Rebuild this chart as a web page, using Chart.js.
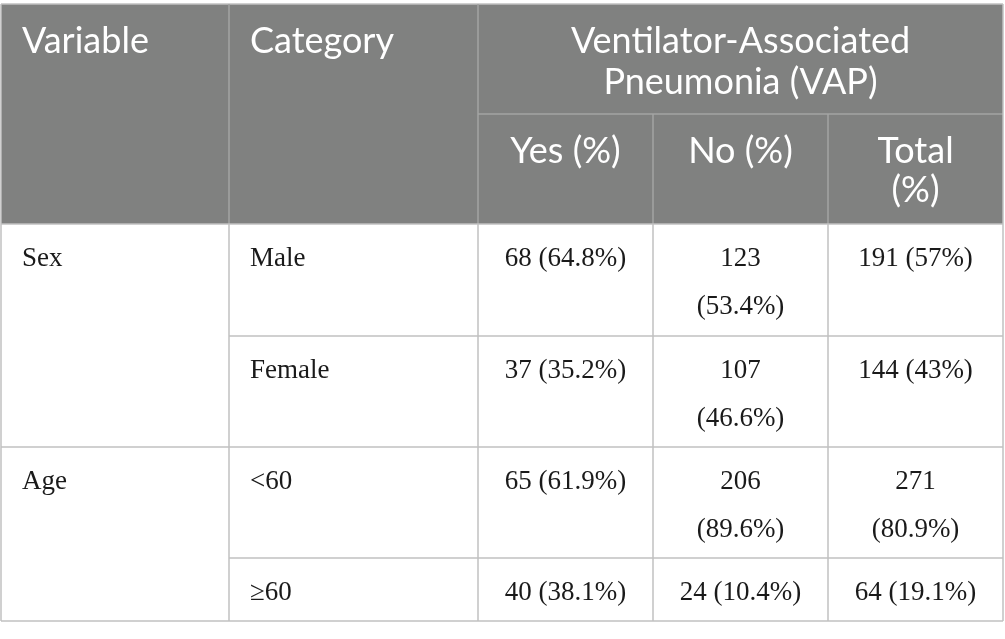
<!DOCTYPE html>
<html lang="en">
<head>
    <meta charset="UTF-8">
    <title>VAP by Sex and Age</title>
    <script src="https://cdn.jsdelivr.net/npm/chart.js"></script>
    <style>
        html, body { margin: 0; padding: 0; background: #ffffff; }
        .tabela-container { width: 1005px; height: 639px; }
    </style>
</head>
<body>
    <div class="tabela-container">
        <canvas id="tabelaChart"></canvas>
    </div>

    <script>
        // Dados da tabela
        const variables = ['Sex', 'Age'];
        const categories = ['Male', 'Female', '<60', '\u226560'];
        const yesCounts = [68, 37, 65, 40];
        const yesPct = ['64.8', '35.2', '61.9', '38.1'];
        const noCounts = [123, 107, 206, 24];
        const noPct = ['53.4', '46.6', '89.6', '10.4'];
        const totalCounts = [191, 144, 271, 64];
        const totalPct = ['57', '43', '80.9', '19.1'];
        const headerMain = ['Variable', 'Category', 'Ventilator-Associated Pneumonia (VAP)'];
        const headerSub = ['Yes (%)', 'No (%)', 'Total (%)'];

        // Layout (em unidades das escalas)
        const colEdges = [1, 229, 478, 653, 828, 1003];
        const rowEdges = [4, 114, 224, 336, 447, 558, 621];

        const headerFont = '36px Lato';
        const bodyFont = '27px "Liberation Serif"';

        function wrapText(ctx, text, maxWidth) {
            const words = text.split(' ');
            const lines = [];
            let line = '';
            words.forEach(w => {
                const test = line ? line + ' ' + w : w;
                if (line && ctx.measureText(test).width > maxWidth) {
                    lines.push(line);
                    line = w;
                } else {
                    line = test;
                }
            });
            if (line) lines.push(line);
            return lines;
        }

        function drawLines(ctx, lines, x, y, lineHeight) {
            lines.forEach((l, i) => ctx.fillText(l, x, y + i * lineHeight));
        }

        const tablePlugin = {
            id: 'tablePlugin',
            afterDraw(chart) {
                const ctx = chart.ctx;
                const xs = chart.scales.x;
                const ys = chart.scales.y;
                const X = v => xs.getPixelForValue(v);
                const Y = v => ys.getPixelForValue(v);
                const c = colEdges.map(X);
                const r = rowEdges.map(Y);

                ctx.save();
                // fundo do cabeçalho
                ctx.fillStyle = '#808180';
                ctx.fillRect(c[0], r[0], c[5] - c[0], r[2] - r[0]);

                // linhas
                ctx.lineWidth = 1.5;
                function hline(x1, x2, y, color) {
                    ctx.strokeStyle = color;
                    ctx.beginPath(); ctx.moveTo(x1, y); ctx.lineTo(x2, y); ctx.stroke();
                }
                function vline(x, y1, y2, color) {
                    ctx.strokeStyle = color;
                    ctx.beginPath(); ctx.moveTo(x, y1); ctx.lineTo(x, y2); ctx.stroke();
                }
                const headLine = '#a3a4a3';
                const bodyLine = '#c0c0c0';
                hline(c[0], c[5], r[0], bodyLine);
                hline(c[2], c[5], r[1], headLine);
                for (let i = 1; i < 5; i++) {
                    vline(c[i], (i >= 3 ? r[1] : r[0]), r[2], headLine);
                    vline(c[i], r[2], r[6], bodyLine);
                }
                vline(c[0], r[0], r[6], bodyLine);
                vline(c[5], r[0], r[6], bodyLine);
                hline(c[0], c[5], r[2], bodyLine);
                hline(c[1], c[5], r[3], bodyLine);
                hline(c[0], c[5], r[4], bodyLine);
                hline(c[1], c[5], r[5], bodyLine);
                hline(c[0], c[5], r[6], bodyLine);

                // texto do cabeçalho
                ctx.fillStyle = '#ffffff';
                ctx.font = headerFont;
                ctx.textBaseline = 'alphabetic';
                ctx.textAlign = 'left';
                ctx.fillText(headerMain[0], c[0] + 21, r[0] + 49);
                ctx.fillText(headerMain[1], c[1] + 21, r[0] + 49);
                ctx.textAlign = 'center';
                drawLines(ctx, wrapText(ctx, headerMain[2], c[5] - c[2] - 60),
                    (c[2] + c[5]) / 2, r[0] + 49, 41);
                headerSub.forEach((t, i) => {
                    const lines = wrapText(ctx, t, c[i + 3] - c[i + 2] - 50);
                    drawLines(ctx, lines, (c[i + 2] + c[i + 3]) / 2, r[1] + 49, 39);
                });

                // corpo
                ctx.fillStyle = '#1a1a1a';
                ctx.font = bodyFont;
                ctx.textAlign = 'left';
                variables.forEach((v, i) => {
                    ctx.fillText(v, c[0] + 21, r[2 + i * 2] + 42);
                });
                categories.forEach((cat, i) => {
                    ctx.textAlign = 'left';
                    ctx.fillText(cat, c[1] + 21, r[2 + i] + 42);
                    const cells = [
                        `${yesCounts[i]} (${yesPct[i]}%)`,
                        `${noCounts[i]} (${noPct[i]}%)`,
                        `${totalCounts[i]} (${totalPct[i]}%)`
                    ];
                    ctx.textAlign = 'center';
                    cells.forEach((t, j) => {
                        const lines = wrapText(ctx, t, c[j + 3] - c[j + 2] - 46);
                        drawLines(ctx, lines, (c[j + 2] + c[j + 3]) / 2, r[2 + i] + 42, 48);
                    });
                });
                ctx.restore();
            }
        };

        function criarTabela() {
            const ctx = document.getElementById('tabelaChart').getContext('2d');
            new Chart(ctx, {
                type: 'scatter',
                data: { datasets: [] },
                options: {
                    responsive: true,
                    maintainAspectRatio: false,
                    animation: false,
                    layout: { padding: 0 },
                    scales: {
                        x: { type: 'linear', min: 0, max: 1005, display: false },
                        y: { type: 'linear', min: 0, max: 639, reverse: true, display: false }
                    },
                    plugins: {
                        legend: { display: false },
                        tooltip: { enabled: false }
                    }
                },
                plugins: [tablePlugin]
            });
        }

        Promise.all([
            document.fonts.load(headerFont),
            document.fonts.load(bodyFont)
        ]).then(criarTabela, criarTabela);
    </script>
</body>
</html>
